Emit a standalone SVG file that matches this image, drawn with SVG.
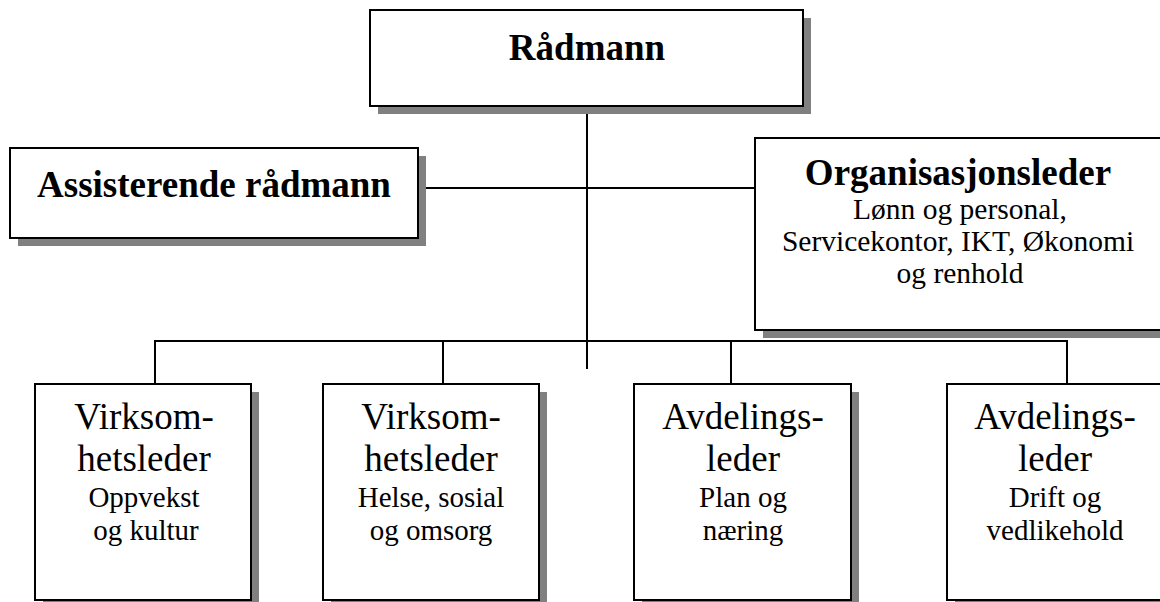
<svg xmlns="http://www.w3.org/2000/svg" width="1160" height="602" viewBox="0 0 1160 602">
  <style>
    .shadow { fill: #808080; }
    .box { fill: #ffffff; stroke: #000000; stroke-width: 2; }
    .wire { stroke: #000000; stroke-width: 2; fill: none; }
    text { font-family: "Liberation Serif", "Times New Roman", serif; fill: #000000; text-anchor: middle; }
    .title { font-weight: bold; font-size: 37px; }
    .sub { font-size: 29.5px; }
    .big { font-size: 37px; }
    .small { font-size: 29px; }
  </style>
  <rect width="1160" height="602" fill="#ffffff"/>

  <!-- reporting lines -->
  <g id="connectors">
    <line class="wire" x1="587" y1="95" x2="587" y2="369"/>
    <line class="wire" x1="418" y1="188" x2="755" y2="188"/>
    <polyline class="wire" points="155,384 155,341 1067,341 1067,384"/>
    <line class="wire" x1="443" y1="341" x2="443" y2="384"/>
    <line class="wire" x1="731" y1="341" x2="731" y2="384"/>
  </g>

  <g id="radmann">
    <rect class="shadow" x="378" y="18" width="433" height="96"/>
    <rect class="box" x="370" y="10" width="433" height="96"/>
    <text class="title" x="587" y="60">Rådmann</text>
  </g>

  <g id="assisterende">
    <rect class="shadow" x="18" y="156" width="408" height="90"/>
    <rect class="box" x="10" y="148" width="408" height="90"/>
    <text class="title" x="214" y="197">Assisterende rådmann</text>
  </g>

  <g id="organisasjonsleder">
    <rect class="shadow" x="763" y="146" width="420" height="192"/>
    <rect class="box" x="755" y="138" width="420" height="192"/>
    <text class="title" x="958" y="185">Organisasjonsleder</text>
    <text class="sub" x="960" y="219">Lønn og personal,</text>
    <text class="sub" x="958" y="251">Servicekontor, IKT, Økonomi</text>
    <text class="sub" x="960" y="283">og renhold</text>
  </g>

  <g id="oppvekst">
    <rect class="shadow" x="43" y="392" width="216" height="216"/>
    <rect class="box" x="35" y="384" width="216" height="216"/>
    <text class="big" x="144" y="429">Virksom-</text>
    <text class="big" x="144" y="471">hetsleder</text>
    <text class="small" x="144" y="507">Oppvekst</text>
    <text class="small" x="146" y="540">og kultur</text>
  </g>

  <g id="helse">
    <rect class="shadow" x="331" y="392" width="216" height="216"/>
    <rect class="box" x="323" y="384" width="216" height="216"/>
    <text class="big" x="431" y="429">Virksom-</text>
    <text class="big" x="431" y="471">hetsleder</text>
    <text class="small" x="431" y="507">Helse, sosial</text>
    <text class="small" x="431" y="540">og omsorg</text>
  </g>

  <g id="plan">
    <rect class="shadow" x="642" y="392" width="217" height="216"/>
    <rect class="box" x="634" y="384" width="217" height="216"/>
    <text class="big" x="743" y="429">Avdelings-</text>
    <text class="big" x="743" y="471">leder</text>
    <text class="small" x="743" y="507">Plan og</text>
    <text class="small" x="743" y="540">næring</text>
  </g>

  <g id="drift">
    <rect class="shadow" x="955" y="392" width="217" height="216"/>
    <rect class="box" x="947" y="384" width="217" height="216"/>
    <text class="big" x="1055" y="429">Avdelings-</text>
    <text class="big" x="1055" y="471">leder</text>
    <text class="small" x="1055" y="507">Drift og</text>
    <text class="small" x="1055" y="540">vedlikehold</text>
  </g>
</svg>
